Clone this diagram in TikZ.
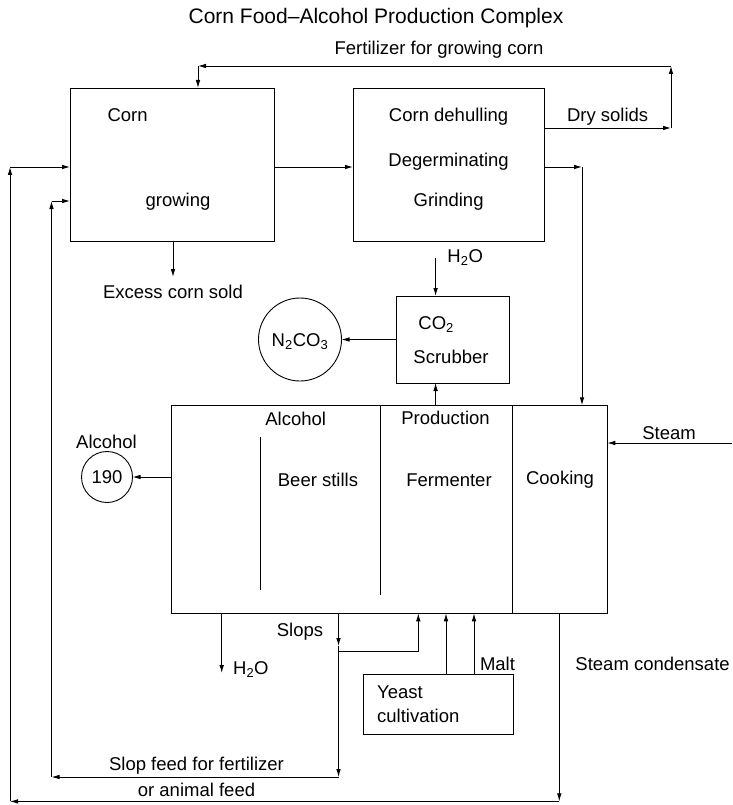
\documentclass[tikz,border=0pt]{standalone}
\usepackage{fontspec}
\setmainfont{Liberation Sans}
\usetikzlibrary{arrows.meta}
\begin{document}
\begin{tikzpicture}[x=1pt,y=-1pt,
  line width=0.9pt,
  arr/.style={-{Latex[length=8pt,width=4.6pt]}},
  box/.style={draw, rectangle, inner sep=0pt, outer sep=0pt},
  ring/.style={draw, circle, inner sep=0pt, outer sep=0pt},
  lbl/.style={inner sep=0pt, font=\fontsize{18.5}{22}\selectfont, text height=13pt, text depth=0pt},
  lblw/.style={lbl, anchor=west},
]
\useasboundingbox (0,0) rectangle (732,805);

% title
\node[lbl, font=\fontsize{21}{25}\selectfont, text height=15pt] (title) at (376,16) {Corn Food--Alcohol Production Complex};

% process blocks
\node[box, minimum width=204pt, minimum height=153pt] (corn) at (172,164.5) {};
\node[box, minimum width=191pt, minimum height=153pt] (mill) at (448.5,164.5) {};
\node[box, minimum width=113pt, minimum height=87pt] (scrub) at (452.5,339.5) {};
\node[box, minimum width=436pt, minimum height=208pt] (prod) at (389.3,509.3) {};
\node[box, minimum width=150.5pt, minimum height=60pt] (yeast) at (438.5,704.3) {};
\node[ring, minimum size=83pt] (soda) at (300,339.5) {};
\node[ring, minimum size=51pt] (alc) at (107,477) {};

% inner walls of the production block
\coordinate (w1) at (260.5,437);
\coordinate (w1b) at (260.5,590);
\coordinate (w2) at (380,595);
\coordinate (w3) at (512.6,0);
\draw (w1) -- (w1b);
\draw (prod.north -| w2) -- (w2);
\draw (prod.north -| w3) -- (prod.south -| w3);

% block texts
\node[lbl] (tcorn) at (127.6,115) {Corn};
\node[lbl] (tgrow) at (178,200) {growing};
\node[lbl] (tdeh) at (448.6,115) {Corn dehulling};
\node[lbl] (tdeg) at (448.6,160) {Degerminating};
\node[lbl] (tgri) at (448.6,200) {Grinding};
\node[lblw] (tco2) at (418,323) {CO\textsubscript{2}};
\node[lbl] (tscr) at (451,357) {Scrubber};
\node[lbl] (tsoda) at (soda) {N\textsubscript{2}CO\textsubscript{3}};
\node[lbl] (t190) at (alc) {190};
\node[lbl] (talc) at (295.7,419.3) {Alcohol};
\node[lbl] (tprod) at (445.5,418) {Production};
\node[lbl] (tbeer) at (318,480) {Beer stills};
\node[lbl] (tferm) at (449,480) {Fermenter};
\node[lbl] (tcook) at (560,478) {Cooking};
\node[lblw] (tyeast) at (376.7,692) {Yeast};
\node[lblw] (tcult) at (376.7,716) {cultivation};

% stream labels
\node[lbl] (tfert) at (439,48) {Fertilizer for growing corn};
\node[lbl] (tdry) at (607.6,115) {Dry solids};
\node[lbl] (texc) at (173,292) {Excess corn sold};
\node[lblw] (tw1) at (447,256) {H\textsubscript{2}O};
\node[lbl] (talco) at (106.5,442) {Alcohol};
\node[lbl] (tsteam) at (669,433.3) {Steam};
\node[lbl] (tslops) at (300,630) {Slops};
\node[lblw] (tw2) at (232.7,668) {H\textsubscript{2}O};
\node[lbl] (tmalt) at (497.5,664) {Malt};
\node[lblw] (tcond) at (575,664) {Steam condensate};
\node[lbl] (tslf) at (196.5,764) {Slop feed for fertilizer};
\node[lbl] (tanf) at (196.5,790) {or animal feed};

% dry solids returned as fertilizer
\coordinate (dsR) at (671,128);
\coordinate (fTR) at (671,66);
\coordinate (fTL) at (198,66);
\draw[arr] (mill.east |- dsR) -- (dsR);
\draw[arr] (dsR) -- (fTR);
\draw[arr] (fTR) -- (fTL);
\draw[arr] (fTL) -- (corn.north -| fTL);

% corn to milling, milling to cooking
\coordinate (row) at (0,167);
\coordinate (cookIn) at (582,167);
\draw[arr] (corn.east |- row) -- (mill.west |- row);
\draw[arr] (mill.east |- cookIn) -- (cookIn);
\draw[arr] (cookIn) -- (prod.north -| cookIn);

% excess corn
\coordinate (exc) at (173,277);
\draw[arr] (corn.south -| exc) -- (exc);

% scrubber streams
\coordinate (wIn) at (435.6,258);
\draw[arr] (wIn) -- (scrub.north -| wIn);
\draw[arr] (scrub.west) -- (soda.east);
\draw[arr] (prod.north -| wIn) -- (scrub.south -| wIn);

% steam and alcohol
\coordinate (stm) at (732,443);
\draw[arr] (stm) -- (prod.east |- stm);
\draw[arr] (prod.west |- alc) -- (alc.east);

% water from stills
\coordinate (wOut) at (221.7,673);
\draw[arr] (prod.south -| wOut) -- (wOut);

% slops: recycle to fermenter and feed loop
\coordinate (sl1) at (338.5,646);
\coordinate (sl2) at (338.5,651);
\coordinate (slR) at (418.3,0);
\coordinate (slB) at (338.5,777);
\coordinate (slL) at (51.5,777);
\coordinate (slU) at (51.5,201);
\draw[arr] (prod.south -| sl1) -- (sl1);
\draw (sl1) -- (sl2);
\draw[arr] (sl2) -| (prod.south -| slR);
\draw[arr] (sl2) -- (slB);
\draw[arr] (slB) -- (slL);
\draw[arr] (slL) -- (slU);
\draw[arr] (slU) -- (corn.west |- slU);

% yeast and malt feed
\coordinate (ya) at (446,0);
\coordinate (yb) at (474,0);
\draw[arr] (yeast.north -| ya) -- (prod.south -| ya);
\draw[arr] (yeast.north -| yb) -- (prod.south -| yb);

% steam condensate loop
\coordinate (cd) at (559.3,801.4);
\coordinate (cdL) at (10,801.4);
\coordinate (cdU) at (10,167);
\draw[arr] (prod.south -| cd) -- (cd);
\draw[arr] (cd) -- (cdL);
\draw[arr] (cdL) -- (cdU);
\draw[arr] (cdU) -- (corn.west |- cdU);
\end{tikzpicture}
\end{document}
